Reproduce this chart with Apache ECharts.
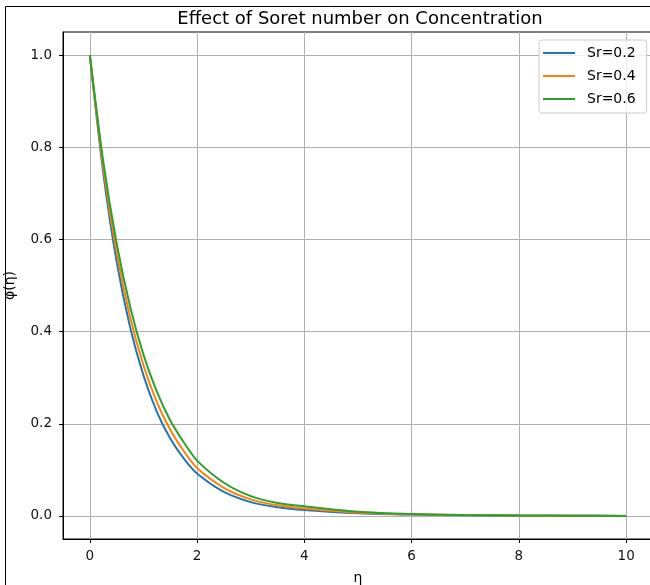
<!DOCTYPE html>
<html>
<head>
<meta charset="utf-8">
<script src="https://cdn.jsdelivr.net/npm/echarts@6/dist/echarts.min.js"></script>
<style>html,body{margin:0;padding:0;background:#fff}#c{width:650px;height:585px}</style>
</head>
<body>
<div id="c"></div>
<script>
const titleText = 'Effect of Soret number on Concentration';
const eta = [0, 0.25, 0.5, 0.75, 1, 1.25, 1.5, 1.75, 2, 2.5, 3, 3.5, 4, 5, 6, 7, 8, 9, 10];
const sr02 = [1, 0.745, 0.552, 0.41, 0.305, 0.226, 0.168, 0.125, 0.092, 0.052, 0.030, 0.019, 0.013, 0.006, 0.003, 0.0015, 0.0008, 0.0004, 0.0];
const sr04 = [1, 0.756, 0.572, 0.432, 0.327, 0.247, 0.187, 0.141, 0.104, 0.061, 0.036, 0.023, 0.016, 0.007, 0.0035, 0.0018, 0.0009, 0.0004, 0.0];
const sr06 = [1, 0.77, 0.592, 0.455, 0.35, 0.27, 0.207, 0.16, 0.12, 0.072, 0.043, 0.028, 0.021, 0.009, 0.004, 0.002, 0.001, 0.0005, 0.0];
const seriesNames = ['Sr=0.2', 'Sr=0.4', 'Sr=0.6'];
const seriesColors = ['#1f77b4', '#ff7f0e', '#2ca02c'];
const xTicks = [0, 2, 4, 6, 8, 10];
const yTicks = [0, 0.2, 0.4, 0.6, 0.8, 1.0];

const allSeries = [sr02, sr04, sr06];
const font = 'DejaVu Sans';
const chart = echarts.init(document.getElementById('c'), null, {renderer: 'canvas'});
chart.setOption({
  animation: false,
  backgroundColor: '#fff',
  title: {
    text: titleText, left: 355, top: 5, textAlign: 'center',
    textStyle: {fontFamily: font, fontSize: 18, fontWeight: 'normal', color: '#000'}
  },
  graphic: [{
    type: 'polyline', silent: true,
    shape: {points: [[5.5, 600], [5.5, 6.5], [700, 6.5]]},
    style: {stroke: '#000', lineWidth: 1, fill: null}
  }],
  legend: {
    orient: 'vertical', left: 539, top: 40,
    data: seriesNames,
    icon: 'rect', itemWidth: 32, itemHeight: 2, itemGap: 7,
    padding: [5, 11, 6, 4],
    borderColor: '#cccccc', borderWidth: 1, borderRadius: 3,
    backgroundColor: 'rgba(255,255,255,0.8)',
    textStyle: {fontFamily: font, fontSize: 14, color: '#000', lineHeight: 16, padding: [0, 0, 0, 7]}
  },
  grid: {left: 63, right: -3, top: 32, bottom: 46, outerBoundsMode: 'none', containLabel: false,
    show: true, borderColor: '#000', borderWidth: 1, backgroundColor: 'transparent'},
  xAxis: {
    type: 'value', min: -0.5, max: 10.5,
    name: 'η', nameLocation: 'middle', nameGap: 32,
    nameTextStyle: {fontFamily: font, fontSize: 14, color: '#000'},
    axisLine: {show: true, onZero: false, lineStyle: {color: '#000'}},
    axisTick: {show: true, length: 4, lineStyle: {color: '#000'}, customValues: xTicks},
    axisLabel: {customValues: xTicks, fontFamily: font, fontSize: 13.5, color: '#111', margin: 10, formatter: v => String(v)},
    splitLine: {show: true, lineStyle: {color: '#b0b0b0', width: 1}}
  },
  yAxis: {
    type: 'value', min: -0.05, max: 1.05,
    name: 'φ(η)', nameLocation: 'middle', nameGap: 46, nameRotate: 90,
    nameTextStyle: {fontFamily: font, fontSize: 14, color: '#000'},
    axisLine: {show: true, onZero: false, lineStyle: {color: '#000'}},
    axisTick: {show: true, length: 4, lineStyle: {color: '#000'}, customValues: yTicks},
    axisLabel: {customValues: yTicks, fontFamily: font, fontSize: 13.5, color: '#111', margin: 11, formatter: v => v.toFixed(1)},
    splitLine: {show: true, lineStyle: {color: '#b0b0b0', width: 1}}
  },
  series: allSeries.map((d, i) => ({
    type: 'line', name: seriesNames[i],
    data: eta.map((x, j) => [x, d[j]]),
    smooth: 0.25, showSymbol: false, symbol: 'none',
    lineStyle: {color: seriesColors[i], width: 2},
    itemStyle: {color: seriesColors[i]},
    z: 2 + i
  }))
});
</script>
</body>
</html>
